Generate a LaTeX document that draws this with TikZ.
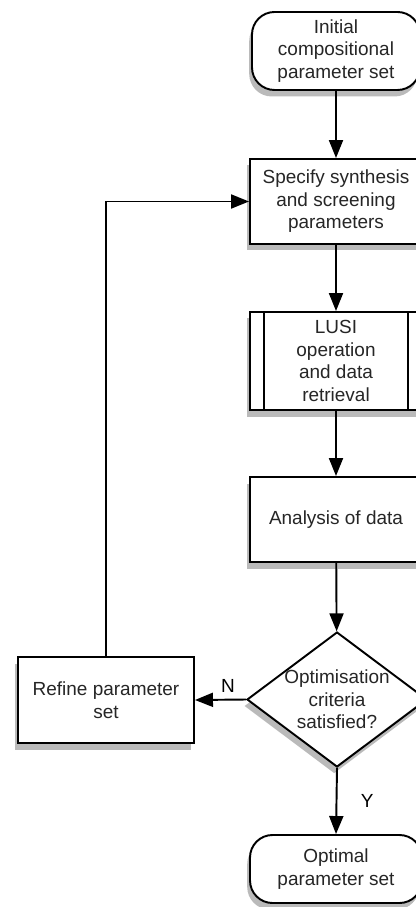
\documentclass[tikz,border=0pt]{standalone}
\usepackage{fontspec}
\setmainfont{Liberation Sans}
\usetikzlibrary{shapes.geometric,arrows.meta,shadows}
\begin{document}
\begin{tikzpicture}
\tikzset{
    optFlow/.style={rectangle,draw=black,line width=1.1pt,fill=white,align=center,text=black!85,font=\fontsize{10.8}{12.8}\selectfont,inner sep=0pt,
        drop shadow={opacity=0.45,fill=black!60,shadow xshift=-0.3ex,shadow yshift=-0.7ex}},
    optFlowEnd/.style={optFlow,rounded corners=0.45cm},
    optFlowTest/.style={optFlow,diamond,inner sep=-0.5cm},
    optFlowArr/.style={draw=black,line width=1.1pt,-{Triangle[length=0.36cm,width=0.28cm]}},
}
\useasboundingbox (0,0) rectangle (8.32,-18.14);
\clip (0,0) rectangle (8.32,-18.14);

\node[optFlowEnd,minimum width=3.36cm,minimum height=1.56cm] (start) at (6.72,-1.02) {Initial\\compositional\\parameter set};
\node[optFlow,minimum width=3.44cm,minimum height=1.70cm] (spec) at (6.72,-4.03) {Specify synthesis\\and screening\\parameters};
\node[optFlow,minimum width=3.44cm,minimum height=1.96cm] (lusi) at (6.72,-7.22) {LUSI\\operation\\and data\\retrieval};
\draw[line width=1.1pt] ([xshift=0.3cm]lusi.north west) -- ([xshift=0.3cm]lusi.south west);
\draw[line width=1.1pt] ([xshift=-0.3cm]lusi.north east) -- ([xshift=-0.3cm]lusi.south east);
\node[optFlow,minimum width=3.44cm,minimum height=1.70cm] (anal) at (6.72,-10.39) {Analysis of data};
\node[optFlowTest,minimum width=3.6cm,minimum height=2.7cm] (crit) at (6.74,-13.99) {Optimisation\\criteria\\satisfied?};
\node[optFlow,minimum width=3.52cm,minimum height=1.72cm] (refine) at (2.12,-14.0) {Refine parameter\\set};
\node[optFlowEnd,minimum width=3.44cm,minimum height=1.36cm] (opt) at (6.72,-17.38) {Optimal\\parameter set};

\foreach \a/\b in {start/spec, spec/lusi, lusi/anal, anal/crit} {
    \draw[optFlowArr] (\a) -- (\b);
}
\draw[optFlowArr] (crit.west) -- node[above,font=\fontsize{10.8}{12.8}\selectfont,xshift=0.15cm] {N} (refine.east);
\draw[optFlowArr] (crit.south) -- node[right,font=\fontsize{10.8}{12.8}\selectfont,xshift=0.35cm] {Y} (opt.north);
\draw[optFlowArr] (refine.north) |- (spec.west);
\end{tikzpicture}
\end{document}
